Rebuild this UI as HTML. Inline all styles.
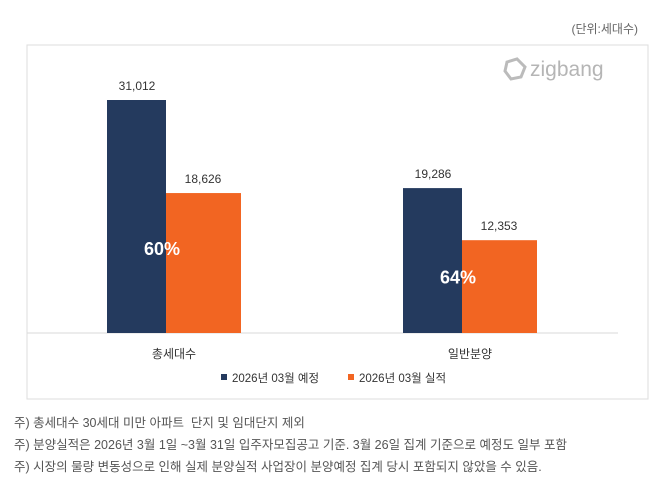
<!DOCTYPE html>
<html><head><meta charset="utf-8"><style>
body{margin:0;background:#fff;font-family:"Liberation Sans","Noto Sans CJK KR",sans-serif;}
#wrap{position:relative;width:670px;height:495px;overflow:hidden;}
.note{position:absolute;left:14px;font-size:12.5px;color:#555;}
</style></head><body>
<div id="wrap">
<svg id="chart" width="670" height="495" style="position:absolute;left:0;top:0">
<text x="638" y="33" font-size="12" fill="#666" text-anchor="end" font-family="Liberation Sans, Noto Sans CJK KR, sans-serif">(단위:세대수)</text>
<rect x="27" y="45" width="621" height="354" fill="#fff" stroke="#ddd"/>
<g>
<path d="M507 62 l10 -3 l8 8 l-4 10 l-10 2 l-6 -8z" fill="none" stroke="#bbb" stroke-width="3"/>
<text x="530" y="76" font-size="21" fill="#b5b5b5" font-family="Liberation Sans, sans-serif">zigbang</text>
</g>
<line x1="27" y1="333" x2="618" y2="333" stroke="#d9d9d9"/>
<g id="bars"></g>
<g>
<rect x="221" y="374" width="6" height="6" fill="#243a5e"/>
<text x="232" y="382" font-size="11.5" fill="#333" font-family="Liberation Sans, Noto Sans CJK KR, sans-serif">2026년 03월 예정</text>
<rect x="348" y="374" width="6" height="6" fill="#f26522"/>
<text x="359" y="382" font-size="11.5" fill="#333" font-family="Liberation Sans, Noto Sans CJK KR, sans-serif">2026년 03월 실적</text>
</g>
</svg>
<div class="note" style="top:412px">주) 총세대수 30세대 미만 아파트&nbsp; 단지 및 임대단지 제외</div>
<div class="note" style="top:434px">주) 분양실적은 2026년 3월 1일 ~3월 31일 입주자모집공고 기준. 3월 26일 집계 기준으로 예정도 일부 포함</div>
<div class="note" style="top:456px">주) 시장의 물량 변동성으로 인해 실제 분양실적 사업장이 분양예정 집계 당시 포함되지 않았을 수 있음.</div>
</div>
<script>
const categories=["총세대수","일반분양"];
const planValues=[31012,19286];
const actualValues=[18626,12353];
const ratioLabels=["60%","64%"];
const NS="http://www.w3.org/2000/svg";
const g=document.getElementById('bars');
const baseY=333, scale=233/31012;
const yOf=v=>baseY-v*scale;
const groupX=i=>107+i*296;
const font="Liberation Sans, Noto Sans CJK KR, sans-serif";
function mk(tag,attrs){const e=document.createElementNS(NS,tag);for(const k in attrs)e.setAttribute(k,attrs[k]);g.appendChild(e);return e;}
categories.forEach((c,i)=>{
  const x=groupX(i);
  const b1=mk('rect',{x:x,y:yOf(planValues[i]),width:59,height:baseY-yOf(planValues[i]),fill:'#243a5e'});
  
  
  const b2=mk('rect',{x:x+59,y:yOf(actualValues[i]),width:75,height:baseY-yOf(actualValues[i]),fill:'#f26522'});
  
  
  const t1=mk('text',{x:x+30,y:yOf(planValues[i])-10,'font-size':12,fill:'#333','text-anchor':'middle','font-family':font});
  t1.textContent=planValues[i].toLocaleString('en-US');
  
  
  const t2=mk('text',{x:x+96,y:yOf(actualValues[i])-10,'font-size':12,fill:'#333','text-anchor':'middle','font-family':font});
  t2.textContent=actualValues[i].toLocaleString('en-US');
  
  
  const top=yOf(actualValues[i]);
  const t3=mk('text',{x:x+55,y:top+(baseY-top)*0.4+6,'font-size':18,'font-weight':'bold',fill:'#fff','text-anchor':'middle','font-family':font});
  t3.textContent=ratioLabels[i];
  
  
  const t4=mk('text',{x:x+67,y:358,'font-size':12,fill:'#333','text-anchor':'middle','font-family':font});
  t4.textContent=c;
  
  
});
</script>
</body></html>
